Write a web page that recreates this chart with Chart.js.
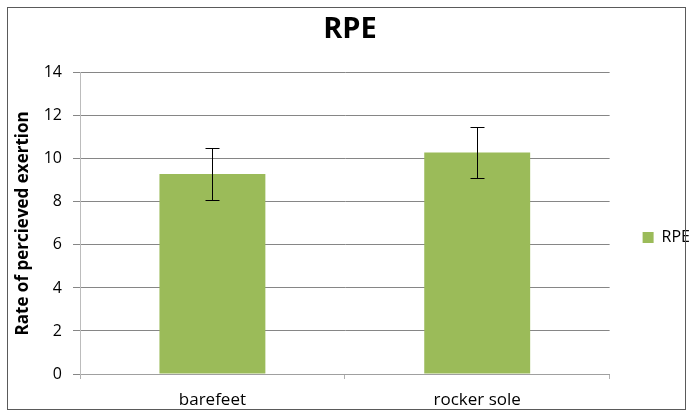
<!DOCTYPE html>
<html>
<head>
<meta charset="utf-8">
<script src="https://cdn.jsdelivr.net/npm/chart.js@4.4.0/dist/chart.umd.min.js"></script>
<style>
  html, body { margin: 0; padding: 0; background: #fff; }
  #wrap { width: 692px; height: 416px; position: relative; }
</style>
</head>
<body>
<div id="wrap"><canvas id="rpeChart" width="692" height="416"></canvas></div>
<script>
  // datos
  const categories = ["barefeet", "rocker sole"];
  const rpeValues = [9.3, 10.3];
  const rpeErrors = [1.2, 1.2];
  const yTicks = [0, 2, 4, 6, 8, 10, 12, 14];

  const barColor = "#9BBB59";
  const fontFamily = "'Open Sans', sans-serif";

  // marco exterior del gráfico
  const framePlugin = {
    id: "frame",
    afterDraw(chart) {
      const ctx = chart.ctx;
      ctx.save();
      ctx.strokeStyle = "#5a5a5a";
      ctx.lineWidth = 1;
      ctx.strokeRect(7.5, 7.5, 678, 402);
      ctx.restore();
    },
  };

  // barras de error
  const errorBarPlugin = {
    id: "errorBars",
    afterDatasetsDraw(chart) {
      const ctx = chart.ctx;
      const y = chart.scales.y;
      const meta = chart.getDatasetMeta(0);
      ctx.save();
      ctx.strokeStyle = "#000";
      ctx.lineWidth = 1;
      meta.data.forEach((bar, i) => {
        const x = Math.round(bar.x) + 0.5;
        const top = Math.round(y.getPixelForValue(rpeValues[i] + rpeErrors[i])) + 0.5;
        const bottom = Math.round(y.getPixelForValue(rpeValues[i] - rpeErrors[i])) + 0.5;
        ctx.beginPath();
        ctx.moveTo(x, top);
        ctx.lineTo(x, bottom);
        ctx.moveTo(x - 7, top);
        ctx.lineTo(x + 7, top);
        ctx.moveTo(x - 7, bottom);
        ctx.lineTo(x + 7, bottom);
        ctx.stroke();
      });
      ctx.restore();
    },
  };

  new Chart(document.getElementById("rpeChart"), {
    type: "bar",
    data: {
      labels: categories,
      datasets: [
        {
          label: "RPE",
          data: rpeValues,
          backgroundColor: barColor,
          borderWidth: 0,
          barPercentage: 0.4,
          categoryPercentage: 1,
        },
      ],
    },
    options: {
      responsive: false,
      animation: false,
      devicePixelRatio: 1,
      layout: { padding: { left: 0, right: -8, top: 12, bottom: 0 } },
      plugins: {
        title: {
          display: true,
          text: "RPE",
          color: "#000",
          font: { family: fontFamily, size: 29, weight: "bold" },
          padding: { top: 0, bottom: 26 },
        },
        legend: {
          position: "right",
          title: { display: true, text: "", padding: { top: 46, bottom: 0 }, font: { size: 1 } },
          labels: {
            color: "#000",
            boxWidth: 11,
            boxHeight: 11,
            padding: 33,
            font: { family: fontFamily, size: 16 },
          },
        },
        tooltip: { enabled: false },
      },
      scales: {
        x: {
          afterFit: (scale) => { scale.height = 42; },
          grid: {
            drawOnChartArea: false,
            drawTicks: true,
            tickLength: 5,
            color: "#b0b0b0",
          },
          border: { color: "#a0a0a0" },
          ticks: { color: "#000", padding: 11, font: { family: fontFamily, size: 17 } },
        },
        y: {
          min: 0,
          max: 14,
          afterFit: (scale) => { scale.width = 80; },
          afterBuildTicks: (scale) => {
            scale.ticks = yTicks.map((v) => ({ value: v }));
          },
          grid: { color: "#868686", tickLength: 7 },
          border: { color: "#bcbcbc" },
          ticks: { color: "#000", padding: 11, font: { family: fontFamily, size: 16 } },
          title: {
            display: true,
            text: "Rate of percieved exertion",
            color: "#000",
            padding: { top: 13, bottom: 0 },
            font: { family: fontFamily, size: 17, weight: "bold" },
          },
        },
      },
    },
    plugins: [errorBarPlugin, framePlugin],
  });
</script>
</body>
</html>
